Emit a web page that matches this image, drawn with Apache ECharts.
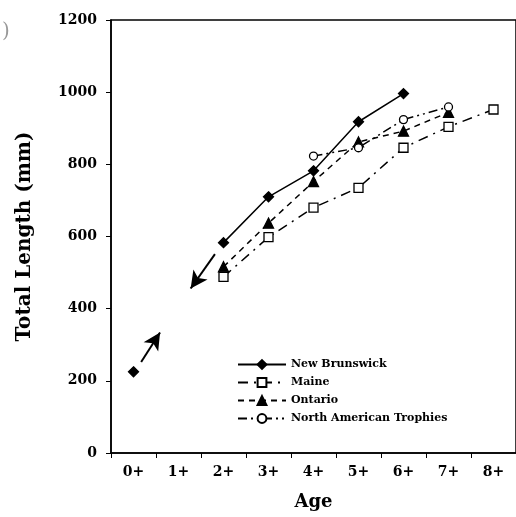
<!DOCTYPE html>
<html><head><meta charset="utf-8">
<script src="https://cdn.jsdelivr.net/npm/echarts@6/dist/echarts.min.js"></script>
<style>html,body{margin:0;padding:0;background:#fff}#c{width:516px;height:517px}</style>
</head><body><div id="c"></div>
<script>
const ages = ['0+','1+','2+','3+','4+','5+','6+','7+','8+'];
const yTicks = [0,200,400,600,800,1000,1200];
const newBrunswick = [225, null, 583, 710, 782, 918, 996, null, null];
const maine = [null, null, 488, 598, 680, 735, 846, 904, 952];
const ontario = [null, null, 516, 637, 752, 862, 892, 944, null];
const trophies = [null, null, null, null, 823, 846, 924, 959, null];
const arrowUp = [[0.17, 252], [0.59, 334]];
const arrowDown = [[1.81, 551], [1.27, 456]];

const FONT = 'DejaVu Serif';
const pairs = v => v.map((y, i) => [i, y]);
const chart = echarts.init(document.getElementById('c'), null, {renderer: 'canvas'});

function line(name, data, dash, symbol, size, filled) {
  return {
    name, type: 'line', xAxisIndex: 1, data: pairs(data),
    connectNulls: false, symbol, symbolSize: size, showSymbol: true,
    lineStyle: {color: '#000', width: 1.5, type: dash},
    itemStyle: {color: filled ? '#000' : '#fff', borderColor: '#000', borderWidth: 1.3},
    emphasis: {disabled: true}, animation: false
  };
}

const series = [
  line('New Brunswick', newBrunswick, 'solid', 'diamond', 10, true),
  line('Maine', maine, [10, 6, 2, 6], 'rect', 9, false),
  line('Ontario', ontario, [6, 5], 'triangle', 10, true),
  line('North American Trophies', trophies, [9, 4, 2, 4, 2, 4], 'circle', 8, false)
];
series.push({
  type: 'line', xAxisIndex: 1, data: [], silent: true, animation: false,
  markLine: {
    silent: true, animation: false,
    symbol: ['none', 'arrow'], symbolSize: [13, 17],
    label: {show: false},
    lineStyle: {color: '#000', width: 2, type: 'solid'},
    emphasis: {disabled: true},
    data: [
      [{coord: arrowUp[0]}, {coord: arrowUp[1]}],
      [{coord: arrowDown[0]}, {coord: arrowDown[1]}]
    ]
  }
});

chart.setOption({
  backgroundColor: '#fff',
  animation: false,
  graphic: [{type: 'text', left: 2, top: 22, style: {text: ')', font: '20px ' + FONT, fill: '#999'}}],
  grid: {left: 111, right: -5, top: 20, bottom: 64, show: true, borderColor: '#000', borderWidth: 1.5},
  legend: {
    orient: 'vertical', left: 237, top: 359, padding: 0, itemGap: 7, itemWidth: 48, itemHeight: 11,
    textStyle: {fontFamily: FONT, fontWeight: 'bold', fontSize: 11, color: '#000'},
    data: ['New Brunswick', 'Maine', 'Ontario', 'North American Trophies']
  },
  xAxis: [{
    type: 'category', data: ages, boundaryGap: true,
    name: 'Age', nameLocation: 'middle', nameGap: 40,
    nameTextStyle: {fontFamily: FONT, fontWeight: 'bold', fontSize: 18, color: '#000'},
    axisLine: {onZero: false, lineStyle: {color: '#000', width: 1.5}},
    axisTick: {show: true, length: 5, lineStyle: {color: '#000'}},
    axisLabel: {fontFamily: FONT, fontWeight: 'bold', fontSize: 14, color: '#000', margin: 12}
  }, {
    type: 'value', min: -0.5, max: 8.5, show: false,
    axisLine: {show: false, onZero: false}, axisTick: {show: false}, splitLine: {show: false}
  }],
  yAxis: {
    type: 'value', min: 0, max: 1200, interval: 200,
    name: 'Total Length (mm)', nameLocation: 'middle', nameGap: 76,
    nameTextStyle: {fontFamily: FONT, fontWeight: 'bold', fontSize: 20, color: '#000'},
    axisLine: {show: true, onZero: false, lineStyle: {color: '#000', width: 1.5}},
    axisTick: {show: true, length: 5, lineStyle: {color: '#000'}},
    splitLine: {show: false},
    axisLabel: {fontFamily: FONT, fontWeight: 'bold', fontSize: 14, color: '#000', margin: 14,
      formatter: v => yTicks.includes(v) ? String(v) : ''}
  },
  series
});
</script></body></html>
